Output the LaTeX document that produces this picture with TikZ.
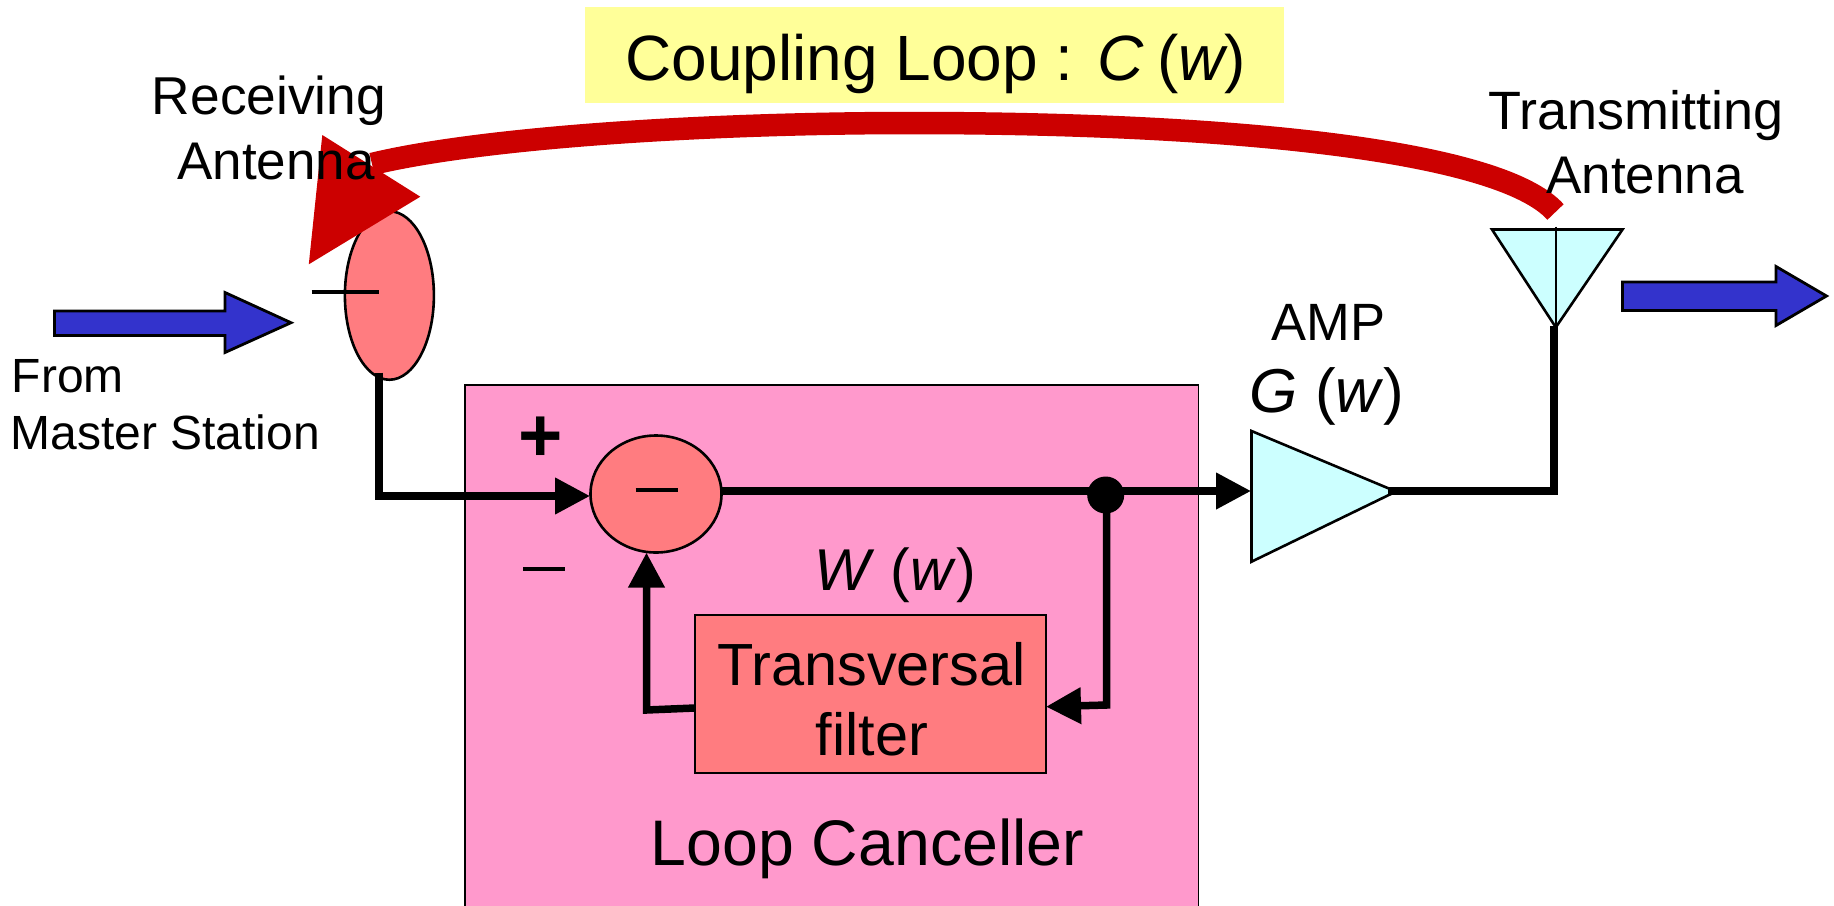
\documentclass[tikz,border=0pt]{standalone}
\usepackage{fontspec}
\setmainfont{Liberation Sans}
\usetikzlibrary{arrows.meta,shapes.geometric}
\definecolor{redarc}{HTML}{CC0000}
\definecolor{bluearr}{HTML}{3333CC}
\definecolor{pinkbox}{HTML}{FF99CC}
\definecolor{salmon}{HTML}{FF7C80}
\definecolor{cyanfill}{HTML}{CCFFFF}
\definecolor{yellowfill}{HTML}{FFFF99}
\newcommand{\fsz}[1]{\fontsize{#1}{#1}\selectfont}
\tikzset{
  outline/.style={draw=black,line width=2.6pt},
  wire/.style={draw=black,line width=7.5pt,line join=miter},
  wirearrow/.style={wire,-{Triangle[length=35pt,width=35pt]}},
  bar/.style={draw=black,line width=3.6pt},
  label/.style={anchor=base,inner sep=0pt,outer sep=0pt,text=black},
  oval/.style={ellipse,outline,fill=salmon,inner sep=0pt},
  bluearrow/.style={fill=bluearr,draw=black,line width=2.8pt,line join=miter},
}
\begin{document}
\begin{tikzpicture}[x=1pt,y=-1pt]
\useasboundingbox (0,0) rectangle (1834,905);
% loop canceller box
\fill[pinkbox] (465,385) rectangle (1198.5,906);
\draw[black,line width=1.8pt] (465,907) -- (465,385) -- (1198.5,385) -- (1198.5,907);
% yellow title band
\node[fill=yellowfill,minimum width=699pt,minimum height=96pt,inner sep=0pt,anchor=north west] (titleband) at (585,7) {};
% blocks
\node[oval,minimum width=89pt,minimum height=168.5pt] (rx) at (389.4,295.5) {};
\node[oval,minimum width=131pt,minimum height=117pt] (sum) at (656,494) {};
\node[draw=black,line width=2.2pt,fill=salmon,minimum width=351pt,minimum height=158pt,inner sep=0pt] (filter) at (870.4,694.3) {};
\node[circle,fill=black,minimum size=37pt,inner sep=0pt] (dot) at (1105.7,495) {};
% amp
\coordinate (ampA) at (1251.5,431);
\coordinate (ampB) at (1251.5,561.7);
\coordinate (ampC) at (1396,491.5);
\filldraw[fill=cyanfill,outline] (ampA) -- (ampC) -- (ampB) -- cycle;
% tx antenna
\coordinate (txA) at (1492,229.5);
\coordinate (txB) at (1622.5,229.5);
\coordinate (txC) at (1555.8,327.3);
\coordinate (txT) at (1555.8,226.5);
\filldraw[fill=cyanfill,outline] (txA) -- (txB) -- (txC) -- cycle;
\draw[black,line width=1.8pt] (txT) -- (txC);
% wire points
\coordinate (a1) at (378.8,372.5);
\coordinate (a2) at (378.8,496);
\coordinate (a3) at (590,496);
\coordinate (b1) at (721.6,491);
\coordinate (b2) at (1251,491);
\coordinate (c1) at (1106.7,505);
\coordinate (c2) at (1106.7,705);
\coordinate (c3) at (1046,706.7);
\coordinate (d1) at (695,708);
\coordinate (d2) at (646.5,710);
\coordinate (d3) at (646.5,552.6);
\coordinate (e1) at (1388,491);
\coordinate (e2) at (1553.8,491);
\coordinate (e3) at (1553.8,326);
\draw[wirearrow] (a1) -- (a2) -- (a3);
\draw[wirearrow] (b1) -- (b2);
\draw[wirearrow] (c1) -- (c2) -- (c3);
\draw[wirearrow] (d1) -- (d2) -- (d3);
\draw[wire] (e1) -- (e2) -- (e3);
% signs
\coordinate (m1a) at (311.6,292); \coordinate (m1b) at (378.8,292);
\draw[black,line width=3.2pt] (m1a) -- (m1b);
\coordinate (m2a) at (635.6,490); \coordinate (m2b) at (677.8,490);
\draw[bar] (m2a) -- (m2b);
\coordinate (m3a) at (523,569); \coordinate (m3b) at (565,569);
\draw[bar] (m3a) -- (m3b);
\node[label] (plus) at (540.6,461) {\fsz{76}\bfseries +};
% blue arrows
\coordinate (bl1) at (54.5,311); \coordinate (bl2) at (225,311); \coordinate (bl3) at (225,292.5);
\coordinate (bl4) at (291,322.7); \coordinate (bl5) at (225,352.5); \coordinate (bl6) at (225,335.5); \coordinate (bl7) at (54.5,335.5);
\filldraw[bluearrow] (bl1) -- (bl2) -- (bl3) -- (bl4) -- (bl5) -- (bl6) -- (bl7) -- cycle;
\coordinate (br1) at (1622.5,282); \coordinate (br2) at (1776,282); \coordinate (br3) at (1776,266.5);
\coordinate (br4) at (1826.5,296); \coordinate (br5) at (1776,325.5); \coordinate (br6) at (1776,310.5); \coordinate (br7) at (1622.5,310.5);
\filldraw[bluearrow] (br1) -- (br2) -- (br3) -- (br4) -- (br5) -- (br6) -- (br7) -- cycle;
% coupling loop
\coordinate (arcEnd) at (1555.5,212);
\coordinate (arcTop) at (912,123);
\coordinate (arcHead) at (372,164);
\draw[redarc,line width=22.5pt] (arcEnd) .. controls (1500,150) and (1230,123) .. (arcTop)
  .. controls (700,123) and (480,138) .. (arcHead);
\coordinate (hd1) at (308.8,264.3); \coordinate (hd2) at (322.3,135); \coordinate (hd3) at (420.3,196.7);
\fill[redarc] (hd1) -- (hd2) -- (hd3) -- cycle;
% labels
\node[label,anchor=base west] (title) at (625.5,80.7) {\fsz{64}Coupling Loop : \textit{C}\kern-4.7pt{} (\textit{w}\kern-3.5pt)};
\node[label] (rcv1) at (269,114.3) {\fsz{53.3}Receiving};
\node[label] (rcv2) at (276,179) {\fsz{53}Antenna};
\node[label] (tx1) at (1636,129.5) {\fsz{54}Transmitting};
\node[label] (tx2) at (1645,193) {\fsz{53}Antenna};
\node[label,anchor=base west] (from1) at (12,392) {\fsz{48}From};
\node[label,anchor=base west] (from2) at (10.5,449) {\fsz{48}Master Station};
\node[label] (amp) at (1328.5,340) {\fsz{52.5}AMP};
\node[label] (gw) at (1327,412) {\fsz{62}\textit{G} (\textit{w})};
\node[label] (ww) at (895,590) {\fsz{59}\textit{W} (\textit{w})};
\node[label] (tf1) at (871.5,685.3) {\fsz{59.5}Transversal};
\node[label] (tf2) at (872,755) {\fsz{59.5}filter};
\node[label] (lc) at (867.5,865) {\fsz{64.4}Loop Canceller};
\end{tikzpicture}
\end{document}
